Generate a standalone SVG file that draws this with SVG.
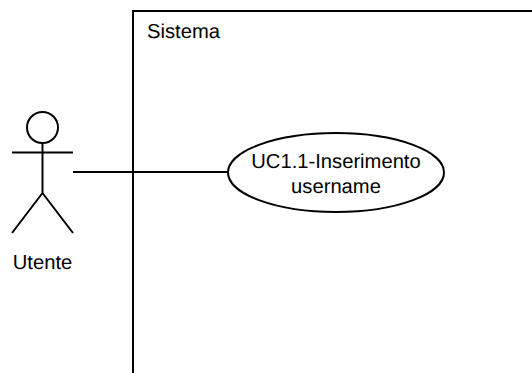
<svg xmlns="http://www.w3.org/2000/svg" width="532" height="373" viewBox="0 0 532 373">
<style>
.s{fill:none;stroke:#000;stroke-width:2}
.t{font-family:"Liberation Sans",Arial,sans-serif;font-size:20.200px;fill:#000;text-rendering:geometricPrecision}
.m{text-anchor:middle}
</style>
<rect width="532" height="373" fill="#fff"/>
<g id="system">
<path class="s" d="M533 11H133V374"/>
<text class="t" x="147" y="38">Sistema</text>
</g>
<g id="connectors">
<path class="s" d="M73 172H228"/>
</g>
<g id="actor-utente">
<circle class="s" cx="42.500" cy="127.500" r="15.500"/>
<path class="s" d="M42.500 143V193M12 152.500H73M42.500 193L12 233M42.500 193L73 233"/>
<text class="t m" x="42.500" y="269">Utente</text>
</g>
<g id="usecase-uc1">
<ellipse cx="336" cy="172.500" rx="108" ry="39.500" fill="#fff" stroke="#000" stroke-width="2"/>
<text class="t m" x="336" y="168">UC1.1-Inserimento</text>
<text class="t m" x="336" y="193">username</text>
</g>
</svg>
